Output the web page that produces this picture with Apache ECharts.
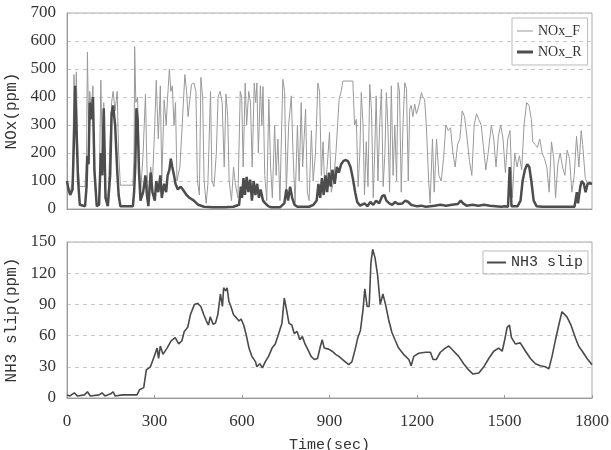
<!DOCTYPE html>
<html>
<head>
<meta charset="utf-8">
<script src="https://cdn.jsdelivr.net/npm/echarts@6/dist/echarts.min.js"></script>
<style>
  html, body { margin: 0; padding: 0; background: #fff; }
  #main { width: 611px; height: 450px; }
</style>
</head>
<body>
<div id="main"></div>
<script>
// NOx before SCR (thin grey line), [time s, ppm]
const noxF = [
  [0,100],[5,80],[11,60],[19,100],[24,480],[28,300],[32,490],[38,150],[44,80],[62,80],
  [67,200],[70,560],[74,300],[78,420],[83,350],[89,440],[94,100],[102,10],[110,30],[116,460],
  [121,200],[126,380],[132,60],[140,20],[148,250],[153,380],[158,420],[165,350],[172,420],[177,200],
  [183,85],[226,85],[230,200],[232,580],[236,380],[242,400],[247,200],[252,50],[261,200],[269,410],
  [274,150],[279,30],[287,150],[293,100],[301,300],[306,460],[313,250],[320,440],[325,100],[333,390],
  [340,300],[345,400],[351,500],[356,420],[361,440],[367,300],[372,380],[377,100],[387,150],[395,300],
  [404,480],[410,420],[415,330],[422,400],[427,445],[435,450],[442,420],[447,100],[454,50],[459,470],
  [465,400],[470,100],[477,20],[483,90],[492,420],[497,100],[504,80],[512,200],[518,400],[525,420],
  [532,380],[539,150],[545,410],[551,330],[556,100],[564,30],[571,150],[577,90],[586,40],[594,420],
  [599,400],[604,150],[611,450],[616,300],[623,420],[629,380],[635,150],[642,450],[647,380],[651,450],
  [656,200],[663,440],[668,300],[672,437],[678,120],[685,30],[692,392],[698,150],[704,40],[712,300],
  [717,120],[723,250],[730,30],[740,463],[746,420],[752,60],[760,300],[769,404],[775,200],[782,20],
  [790,300],[796,100],[803,380],[808,150],[818,357],[824,60],[830,30],[838,280],[844,100],[852,200],
  [860,450],[866,420],[872,120],[878,240],[884,60],[892,150],[900,275],[906,60],[914,100],[922,200],
  [933,392],[940,420],[946,457],[980,457],[986,300],[992,320],[998,80],[1004,200],[1009,416],[1015,300],
  [1020,50],[1026,240],[1032,80],[1038,445],[1044,350],[1050,40],[1055,200],[1060,404],[1066,100],[1072,300],
  [1078,428],[1084,80],[1090,200],[1095,416],[1100,300],[1106,60],[1112,440],[1118,120],[1124,300],[1130,100],
  [1135,451],[1140,420],[1146,60],[1152,300],[1158,451],[1164,430],[1170,100],[1175,357],[1180,370],[1186,330],
  [1192,375],[1198,340],[1204,360],[1209,380],[1215,416],[1220,400],[1226,392],[1232,300],[1240,100],[1245,20],
  [1253,250],[1259,60],[1267,250],[1275,120],[1283,100],[1291,180],[1299,300],[1307,280],[1315,290],[1323,200],
  [1331,150],[1339,230],[1347,250],[1355,350],[1363,330],[1372,250],[1380,170],[1388,120],[1396,300],[1404,340],
  [1412,320],[1420,300],[1428,220],[1436,140],[1444,200],[1455,300],[1463,250],[1471,150],[1479,260],[1487,300],
  [1495,250],[1503,130],[1511,250],[1519,280],[1527,40],[1535,200],[1543,150],[1551,190],[1559,140],[1567,300],
  [1576,380],[1584,370],[1592,320],[1597,240],[1605,230],[1613,220],[1621,250],[1629,200],[1637,180],[1645,150],
  [1653,60],[1661,240],[1669,180],[1675,40],[1683,160],[1691,200],[1699,150],[1707,120],[1715,210],[1723,180],
  [1731,60],[1739,120],[1747,260],[1755,150],[1763,280],[1768,230],[1777,110],[1785,90],[1800,90]
];

// NOx after SCR (thick dark line), [time s, ppm]
const noxR = [
  [0,100],[5,70],[11,50],[19,70],[24,250],[28,440],[32,300],[38,100],[44,15],[62,10],
  [67,80],[70,190],[74,160],[78,380],[83,320],[89,400],[94,140],[102,10],[110,15],[116,200],
  [121,120],[126,360],[132,40],[140,10],[148,120],[153,340],[158,370],[165,300],[172,140],[177,50],
  [183,10],[226,10],[230,60],[234,150],[238,360],[242,320],[247,130],[252,30],[261,60],[269,120],
  [274,50],[279,10],[287,130],[293,60],[301,30],[306,100],[313,60],[320,120],[325,40],[333,90],
  [340,60],[345,120],[351,140],[356,180],[361,150],[367,120],[372,90],[380,70],[390,80],[400,65],
  [410,50],[420,40],[435,30],[450,15],[470,8],[500,6],[540,6],[570,8],[590,15],[596,80],
  [600,40],[605,110],[610,50],[616,115],[622,60],[628,105],[634,30],[640,100],[646,50],[652,90],
  [658,40],[664,70],[672,30],[680,20],[690,10],[700,6],[730,6],[745,20],[752,70],[758,30],
  [765,80],[772,40],[780,15],[790,8],[830,8],[845,15],[856,30],[862,90],[868,40],[874,110],
  [880,50],[886,120],[892,60],[898,130],[904,80],[910,140],[918,90],[925,150],[932,130],[940,160],
  [948,172],[956,175],[964,170],[972,150],[980,110],[988,60],[995,25],[1005,12],[1020,20],[1030,10],
  [1040,25],[1050,15],[1060,30],[1070,20],[1080,45],[1088,50],[1095,30],[1105,20],[1115,15],[1125,25],
  [1135,18],[1150,20],[1160,30],[1170,25],[1180,15],[1190,12],[1200,10],[1215,12],[1230,8],[1245,10],
  [1260,12],[1280,15],[1300,12],[1320,15],[1340,18],[1350,30],[1358,20],[1370,12],[1390,15],[1410,12],
  [1430,15],[1450,12],[1470,10],[1490,8],[1500,10],[1512,8],[1518,150],[1524,10],[1530,8],[1545,10],
  [1555,30],[1562,100],[1570,140],[1578,160],[1585,150],[1592,100],[1600,30],[1610,10],[1630,8],[1680,8],
  [1740,8],[1748,60],[1752,20],[1760,80],[1765,100],[1772,90],[1778,60],[1785,90],[1792,92],[1800,90]
];

// NH3 slip, [time s, ppm]
const nh3 = [
  [0,3],[10,2],[25,5],[35,2],[60,3],[70,6],[80,2],[110,3],[120,5],[130,2],
  [150,4],[158,6],[165,2],[190,3],[240,3],[249,8],[263,10],[272,27],[286,30],[299,40],
  [309,48],[314,38],[320,50],[329,42],[343,48],[357,55],[371,58],[383,52],[394,55],[402,64],
  [414,68],[423,80],[437,90],[448,91],[459,88],[469,80],[478,74],[485,70],[491,78],[501,71],
  [509,72],[517,80],[526,100],[533,88],[537,106],[544,103],[549,106],[555,93],[562,88],[571,80],
  [581,77],[590,74],[597,76],[606,70],[615,60],[624,48],[634,40],[646,35],[651,30],[661,33],
  [670,29],[680,35],[691,40],[703,48],[714,52],[726,62],[737,72],[745,96],[752,86],[761,72],
  [771,70],[779,62],[789,64],[798,56],[807,59],[816,52],[825,47],[837,40],[848,37],[859,38],
  [869,50],[875,56],[882,48],[897,47],[909,45],[921,42],[932,40],[949,36],[966,32],[977,35],
  [989,48],[997,58],[1006,65],[1015,85],[1021,105],[1029,88],[1036,88],[1042,130],[1048,143],[1056,135],
  [1065,118],[1074,90],[1083,100],[1092,90],[1103,75],[1114,63],[1126,55],[1137,48],[1154,42],[1172,37],
  [1180,31],[1189,40],[1206,43],[1229,44],[1246,44],[1255,37],[1266,37],[1280,44],[1297,48],[1309,50],
  [1326,45],[1343,40],[1360,33],[1377,27],[1392,23],[1412,24],[1429,30],[1446,38],[1463,45],[1480,48],
  [1492,45],[1500,55],[1509,68],[1517,70],[1524,58],[1537,52],[1554,53],[1572,45],[1589,38],[1606,33],
  [1623,31],[1640,30],[1652,28],[1663,40],[1674,55],[1686,70],[1697,83],[1714,78],[1728,70],[1743,58],
  [1754,50],[1769,44],[1783,38],[1800,32]
];

const serif = 'Liberation Serif';
const mono = 'Liberation Mono';

const chart = echarts.init(document.getElementById('main'));

const plain = v => String(v);

const yAxisBase = {
  type: 'value',
  nameLocation: 'middle',
  nameRotate: 90,
  nameGap: 44,
  nameTextStyle: { fontFamily: mono, fontSize: 16, color: '#333' },
  axisLine: { show: true, lineStyle: { color: '#999' } },
  axisTick: { show: false },
  axisLabel: { fontFamily: serif, fontSize: 17, color: '#333', margin: 11, formatter: plain },
  splitLine: { show: true, lineStyle: { color: '#c8c8c8', type: [4, 4] } }
};

const option = {
  animation: false,
  grid: [
    { left: 67, right: 19, top: 13, height: 196, show: true, borderColor: '#aaa', borderWidth: 1, outerBoundsMode: 'none' },
    { left: 67, right: 19, top: 242, height: 156, show: true, borderColor: '#aaa', borderWidth: 1, outerBoundsMode: 'none' }
  ],
  xAxis: [
    {
      type: 'value', gridIndex: 0, min: 0, max: 1800, interval: 300,
      axisLine: { lineStyle: { color: '#999' } },
      axisTick: { show: false },
      axisLabel: { show: false },
      splitLine: { show: false }
    },
    {
      type: 'value', gridIndex: 1, min: 0, max: 1800, interval: 300,
      name: 'Time(sec)', nameLocation: 'middle', nameGap: 40,
      nameTextStyle: { fontFamily: mono, fontSize: 15, color: '#333' },
      axisLine: { lineStyle: { color: '#999' } },
      axisTick: { show: true, inside: true, length: 3, lineStyle: { color: '#999' } },
      axisLabel: { fontFamily: serif, fontSize: 17, color: '#333', margin: 15, formatter: plain },
      splitLine: { show: false }
    }
  ],
  yAxis: [
    Object.assign({}, yAxisBase, { gridIndex: 0, min: 0, max: 700, interval: 100, name: 'NOx(ppm)' }),
    Object.assign({}, yAxisBase, { gridIndex: 1, min: 0, max: 150, interval: 30, name: 'NH3 slip(ppm)' })
  ],
  legend: [
    {
      data: [
        { name: 'NOx_F', icon: 'path://M0,0H16V1H0Z' },
        { name: 'NOx_R', icon: 'path://M0,0H16V3H0Z' }
      ],
      orient: 'vertical',
      left: 512, top: 18,
      borderColor: '#bbb', borderWidth: 1,
      padding: [6, 6, 6, 5],
      itemGap: 7, itemWidth: 16, itemHeight: 12,
      textStyle: { fontFamily: serif, fontSize: 14, color: '#333' }
    },
    {
      data: [{ name: 'NH3 slip', icon: 'path://M0,0H19V2H0Z' }],
      left: 483, top: 251,
      borderColor: '#bbb', borderWidth: 1,
      padding: [4, 5, 4, 4],
      itemWidth: 19, itemHeight: 12,
      textStyle: { fontFamily: mono, fontSize: 15, color: '#333' }
    }
  ],
  series: [
    {
      name: 'NOx_F', type: 'line', xAxisIndex: 0, yAxisIndex: 0,
      data: noxF, symbol: 'none',
      lineStyle: { color: '#999999', width: 1 }, itemStyle: { color: '#999999' }
    },
    {
      name: 'NOx_R', type: 'line', xAxisIndex: 0, yAxisIndex: 0,
      data: noxR, symbol: 'none',
      lineStyle: { color: '#4d4d4d', width: 2.5 }, itemStyle: { color: '#4d4d4d' }
    },
    {
      name: 'NH3 slip', type: 'line', xAxisIndex: 1, yAxisIndex: 1,
      data: nh3, symbol: 'none',
      lineStyle: { color: '#4a4a4a', width: 1.6 }, itemStyle: { color: '#4a4a4a' }
    }
  ]
};

chart.setOption(option);
</script>
</body>
</html>
